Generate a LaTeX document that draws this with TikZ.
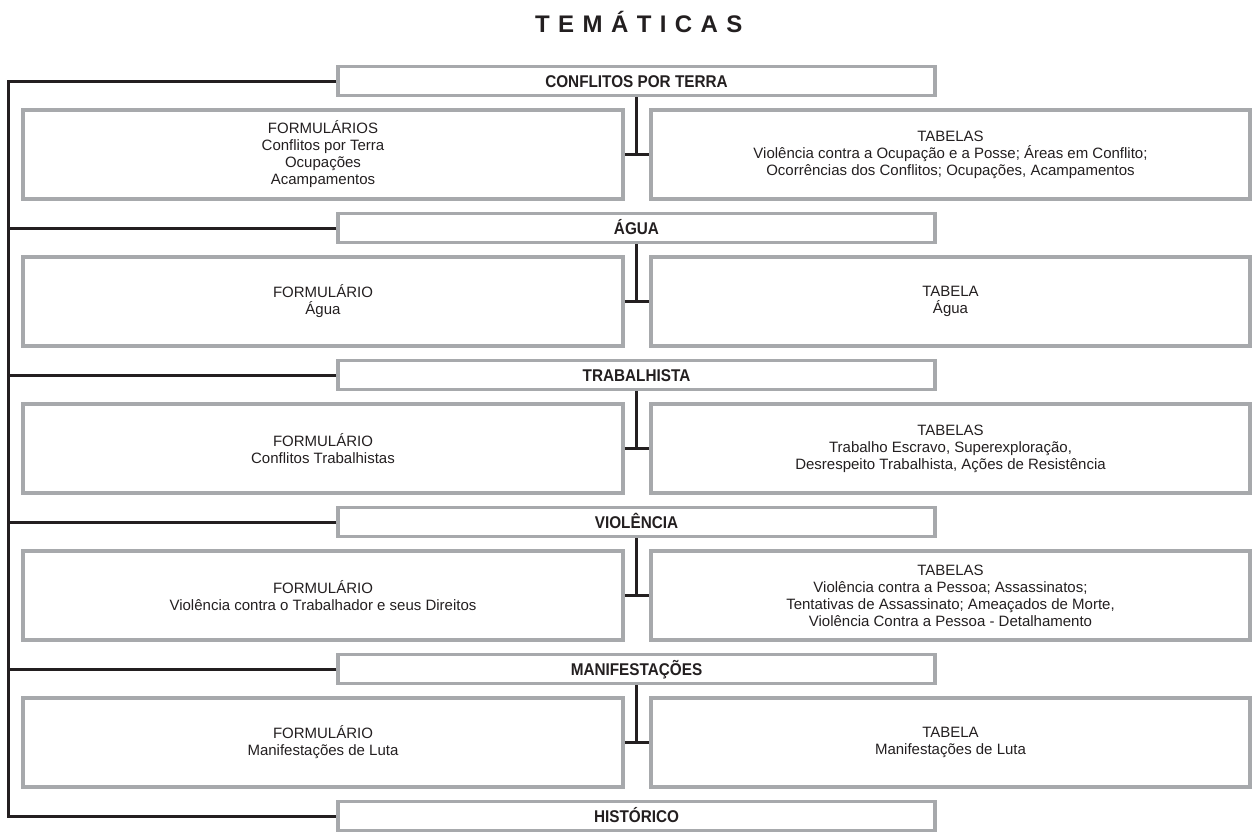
\documentclass[tikz,border=0pt]{standalone}
\usepackage{fontspec}
\setmainfont{Liberation Sans}
\newfontfamily\headfont[FakeStretch=0.9]{Liberation Sans}
\newfontfamily\titlefont[LetterSpace=35]{Liberation Sans}
\usetikzlibrary{calc,positioning}
\definecolor{boxgray}{HTML}{A7A9AC}
\definecolor{inkblack}{HTML}{231F20}

\begin{document}
\begin{tikzpicture}[x=1pt,y=-1pt,
	headbox/.style={draw=boxgray,line width=3.5pt,fill=white,inner sep=0pt,
		minimum width=597pt,minimum height=29pt,text height=12.2pt,text depth=0pt,
		font=\headfont\bfseries\fontsize{17}{20}\selectfont,text=inkblack},
	leftbox/.style={draw=boxgray,line width=3.5pt,inner sep=0pt,align=center,
		minimum width=600pt,minimum height=89pt,
		font=\fontsize{15}{17}\selectfont,text=inkblack},
	rightbox/.style={leftbox,minimum width=599pt},
	link/.style={draw=inkblack,line width=3pt}]
			\useasboundingbox (0,0) rectangle (1252,835);

			\node[anchor=base west,inner sep=0pt,font=\titlefont\bfseries\fontsize{24}{28}\selectfont,text=inkblack]
				(title) at (535,32) {TEMÁTICAS};

			% themes
			\node[headbox] (terra) at (636.5,81) {CONFLITOS POR TERRA};
			\node[headbox] (agua) at (636.5,228) {ÁGUA};
			\node[headbox] (trab) at (636.5,375) {TRABALHISTA};
			\node[headbox] (viol) at (636.5,522) {VIOLÊNCIA};
			\node[headbox] (manif) at (636.5,669) {MANIFESTAÇÕES};
			\node[headbox] (hist) at (636.5,816) {HISTÓRICO};

			% forms and tables
			\node[leftbox] (fterra) at (323,154.5) {FORMULÁRIOS\\Conflitos por Terra\\Ocupações\\Acampamentos};
			\node[rightbox] (tterra) at (950.5,154.5) {TABELAS\\Violência contra a Ocupação e a Posse; Áreas em Conflito;\\Ocorrências dos Conflitos; Ocupações, Acampamentos};
			\node[leftbox] (fagua) at (323,301.5) {FORMULÁRIO\\Água};
			\node[rightbox] (tagua) at (950.5,301.5) {TABELA\\Água};
			\node[leftbox] (ftrab) at (323,448.5) {FORMULÁRIO\\Conflitos Trabalhistas};
			\node[rightbox] (ttrab) at (950.5,448.5) {TABELAS\\Trabalho Escravo, Superexploração,\\Desrespeito Trabalhista, Ações de Resistência};
			\node[leftbox] (fviol) at (323,595.5) {FORMULÁRIO\\Violência contra o Trabalhador e seus Direitos};
			\node[rightbox] (tviol) at (950.5,595.5) {TABELAS\\Violência contra a Pessoa; Assassinatos;\\Tentativas de Assassinato; Ameaçados de Morte,\\Violência Contra a Pessoa - Detalhamento};
			\node[leftbox] (fmanif) at (323,742.5) {FORMULÁRIO\\Manifestações de Luta};
			\node[rightbox] (tmanif) at (950.5,742.5) {TABELA\\Manifestações de Luta};

			\coordinate (ltop) at (8,81);
			\coordinate (lbot) at (8,816);

			\begin{scope}[every path/.style={link}]
				\path (terra.west) -- (ltop) -- (lbot) -- (hist.west);
				\path (agua.west) -- (agua.west -| ltop);
				\path (trab.west) -- (trab.west -| ltop);
				\path (viol.west) -- (viol.west -| ltop);
				\path (manif.west) -- (manif.west -| ltop);

				\path (terra.south) -- (terra.south |- fterra.east);
				\path (fterra.east) -- (tterra.west);
				\path (agua.south) -- (agua.south |- fagua.east);
				\path (fagua.east) -- (tagua.west);
				\path (trab.south) -- (trab.south |- ftrab.east);
				\path (ftrab.east) -- (ttrab.west);
				\path (viol.south) -- (viol.south |- fviol.east);
				\path (fviol.east) -- (tviol.west);
				\path (manif.south) -- (manif.south |- fmanif.east);
				\path (fmanif.east) -- (tmanif.west);
			\end{scope}
		\end{tikzpicture}
\end{document}
